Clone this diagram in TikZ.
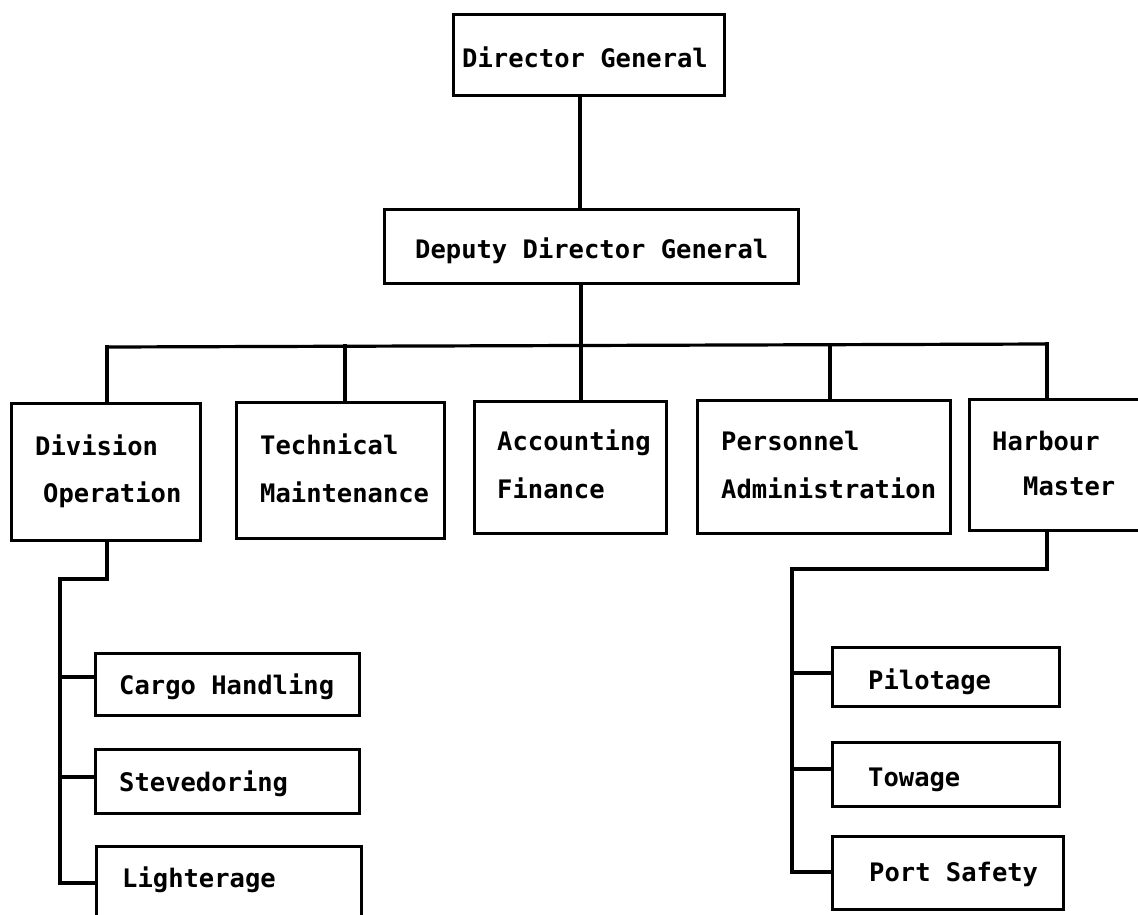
\documentclass[tikz,border=0pt]{standalone}
\usepackage{fontspec}
\setmonofont{DejaVu Sans Mono}
\begin{document}
\begin{tikzpicture}[x=1pt,y=-1pt,
  box/.style={draw, line width=3.2pt, rectangle, inner sep=0pt, anchor=north west},
  lbl/.style={anchor=base west, inner sep=0pt, font=\fontsize{25.5}{30}\selectfont\ttfamily\bfseries},
  wire/.style={line width=3.2pt, line cap=rect}]
\useasboundingbox (0,0) rectangle (1138,914);
\clip (0,0) rectangle (1138,914);

% top of the chart
\node[box, minimum width=271pt, minimum height=81pt] (dg)  at (452,13)  {};
\node[box, minimum width=414pt, minimum height=74pt] (ddg) at (383,208) {};
\node[lbl] (tdg)  at (462,67)  {Director General};
\node[lbl] (tddg) at (415,258) {Deputy Director General};

% departments
\node[box, minimum width=189pt, minimum height=137pt] (div)  at (10,402)  {};
\node[box, minimum width=208pt, minimum height=136pt] (tech) at (235,401) {};
\node[box, minimum width=192pt, minimum height=132pt] (acct) at (473,400) {};
\node[box, minimum width=253pt, minimum height=133pt] (pers) at (696,399) {};
\node[box, minimum width=180pt, minimum height=131pt] (harb) at (968,398) {};

\node[lbl] (tdiv1)  at (35,455)   {Division};
\node[lbl] (tdiv2)  at (43,502)   {Operation};
\node[lbl] (ttech1) at (260,454)  {Technical};
\node[lbl] (ttech2) at (260,502)  {Maintenance};
\node[lbl] (tacct1) at (497,450)  {Accounting};
\node[lbl] (tacct2) at (497,498)  {Finance};
\node[lbl] (tpers1) at (721,450)  {Personnel};
\node[lbl] (tpers2) at (721,498)  {Administration};
\node[lbl] (tharb1) at (992,450)  {Harbour};
\node[lbl] (tharb2) at (1023,495) {Master};

% sections under Division Operation
\node[box, minimum width=264pt, minimum height=62pt] (cargo) at (94,652)  {};
\node[box, minimum width=264pt, minimum height=64pt] (steve) at (94,748)  {};
\node[box, minimum width=265pt, minimum height=90pt] (light) at (95,845)  {};
\node[lbl] (tcargo) at (119,694) {Cargo Handling};
\node[lbl] (tsteve) at (119,791) {Stevedoring};
\node[lbl] (tlight) at (122,887) {Lighterage};

% sections under Harbour Master
\node[box, minimum width=227pt, minimum height=59pt] (pilot) at (831,646) {};
\node[box, minimum width=227pt, minimum height=64pt] (tow)   at (831,741) {};
\node[box, minimum width=231pt, minimum height=73pt] (port)  at (831,835) {};
\node[lbl] (tpilot) at (868,689) {Pilotage};
\node[lbl] (ttow)   at (868,786) {Towage};
\node[lbl] (tport)  at (869,881) {Port Safety};

% trunk and bus
\coordinate (trunk) at (580,0);
\coordinate (b1) at (107,347);
\coordinate (b2) at (345,346);
\coordinate (b3) at (581,346);
\coordinate (b4) at (830,345);
\coordinate (b5) at (1047,344);

\draw[wire] (dg.south -| trunk) -- (ddg.north -| trunk);
\draw[wire] (ddg.south -| b3) -- (b3);
\draw[wire] (b1) -- (b5);
\draw[wire] (b1) -- (b1 |- div.north);
\draw[wire] (b2) -- (b2 |- tech.north);
\draw[wire] (b3) -- (b3 |- acct.north);
\draw[wire] (b4) -- (b4 |- pers.north);
\draw[wire] (b5) -- (b5 |- harb.north);

% Division Operation branch
\coordinate (dv) at (60,579);
\coordinate (d1) at (60,677);
\coordinate (d2) at (60,777);
\coordinate (d3) at (60,883);
\draw[wire] (div.south -| b1) -- (b1 |- dv) -- (dv) -- (d3);
\draw[wire] (d1) -- (d1 -| cargo.west);
\draw[wire] (d2) -- (d2 -| steve.west);
\draw[wire] (d3) -- (d3 -| light.west);

% Harbour Master branch
\coordinate (hv) at (792,569);
\coordinate (h1) at (792,673);
\coordinate (h2) at (792,769);
\coordinate (h3) at (792,872);
\draw[wire] (harb.south -| b5) -- (b5 |- hv) -- (hv) -- (h3);
\draw[wire] (h1) -- (h1 -| pilot.west);
\draw[wire] (h2) -- (h2 -| tow.west);
\draw[wire] (h3) -- (h3 -| port.west);
\end{tikzpicture}
\end{document}
